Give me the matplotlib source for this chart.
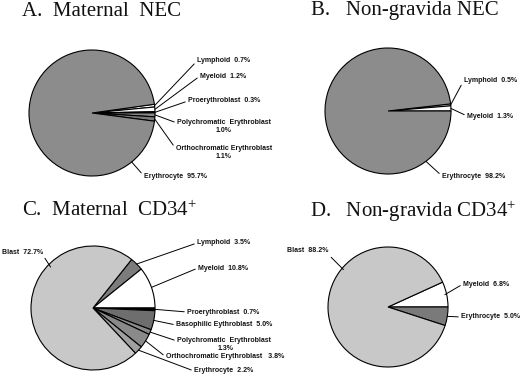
import matplotlib
matplotlib.use("Agg")
import matplotlib.pyplot as plt
import numpy as np

W, H = 520, 377
DPI = 100

# ---- data ----
titles = ["A.  Maternal  NEC", "B.   Non-gravida NEC",
          "C.  Maternal  CD34$^{+}$", "D.   Non-gravida CD34$^{+}$"]

a_labels = ["Lymphoid", "Myeloid", "Proerythroblast", "Polychromatic  Erythroblast",
            "Orthochromatic Erythroblast", "Erythrocyte"]
a_values = [0.7, 1.2, 0.3, 1.0, 1.1, 95.7]

b_labels = ["Lymphoid", "Myeloid", "Erythrocyte"]
b_values = [0.5, 1.3, 98.2]

c_labels = ["Lymphoid", "Myeloid", "Proerythroblast", "Basophilic Eythroblast",
            "Polychromatic  Erythroblast", "Orthochromatic Erythroblast", "Erythrocyte", "Blast"]
c_values = [3.5, 10.8, 0.7, 5.0, 1.3, 3.8, 2.2, 72.7]

d_labels = ["Myeloid", "Erythrocyte", "Blast"]
d_values = [6.8, 5.0, 88.2]

# ---- styles / layout ----
a_colors = ["#ffffff", "#ffffff", "#000000", "#8a8a8a", "#7a7a7a", "#8c8c8c"]
b_colors = ["#ffffff", "#ffffff", "#8c8c8c"]
c_colors = ["#7c7c7c", "#ffffff", "#000000", "#6e6e6e", "#8a8a8a", "#8a8a8a", "#a0a0a0", "#c8c8c8"]
d_colors = ["#ffffff", "#7a7a7a", "#c8c8c8"]

# pie center (px from top-left), radius px, start angle
pies = [
    dict(cx=92, cy=113, r=63, start=8.0),
    dict(cx=388, cy=111, r=63, start=6.5),
    dict(cx=93, cy=308, r=62, start=51.48),
    dict(cx=388, cy=307, r=60, start=24.5),
]
title_pos = [(22, 11), (311, 11), (22, 211), (310, 211)]

# label layout: (text x, text y, anchor angle or None=mid, anchor radius, ha, second-line (x,y) or None)
a_layout = [
    (197, 61, None, 1.0, "left", None),
    (200, 76, None, 1.0, "left", None),
    (188, 101, None, 1.0, "left", None),
    (177, 123, None, 1.0, "left", (224, 131)),
    (176, 149, None, 1.0, "left", (224, 157)),
    (144, 176, -51, 1.0, "left", None),
]
b_layout = [
    (464, 80, None, 1.0, "left", None),
    (467, 116, None, 1.0, "left", None),
    (442, 176, -53, 1.0, "left", None),
]
c_layout = [
    (197, 243, None, 1.0, "left", None),
    (198, 268, None, 1.0, "left", None),
    (187, 312, None, 1.0, "left", None),
    (176, 325, None, 1.0, "left", None),
    (177, 341, None, 1.0, "left", (226, 349)),
    (166, 357, None, 1.0, "left", None),
    (194, 371, None, 1.0, "left", None),
    (2, 252, 136, 0.95, "left", None),
]
d_layout = [
    (463, 284, None, 0.97, "left", None),
    (461, 317, None, 1.0, "left", None),
    (287, 251, 140, 0.97, "left", None),
]

LFONT = dict(family="Liberation Sans", fontweight="bold", fontsize=5.0, color="#111111")

plt.rcParams["mathtext.fontset"] = "custom"
plt.rcParams["mathtext.rm"] = "Liberation Serif"
plt.rcParams["mathtext.it"] = "Liberation Serif"
plt.rcParams["mathtext.bf"] = "Liberation Serif"

fig = plt.figure(figsize=(W / DPI, H / DPI), dpi=DPI)
fig.patch.set_facecolor("white")

def fig_y(y):
    return H - y

sets = [(a_labels, a_values, a_colors, a_layout),
        (b_labels, b_values, b_colors, b_layout),
        (c_labels, c_values, c_colors, c_layout),
        (d_labels, d_values, d_colors, d_layout)]

for k, (labels, values, colors, layout) in enumerate(sets):
    p = pies[k]
    ax = fig.add_axes([(p["cx"] - p["r"]) / W, (H - p["cy"] - p["r"]) / H,
                       2 * p["r"] / W, 2 * p["r"] / H])
    wedges, _ = ax.pie(values, colors=colors, startangle=p["start"], counterclock=False,
                       radius=1.0, wedgeprops=dict(edgecolor="black", linewidth=0.8))
    ax.set_xlim(-1, 1)
    ax.set_ylim(-1, 1)
    ax.set_aspect("equal")
    ax.axis("off")

    for w, lab, val, lay in zip(wedges, labels, values, layout):
        tx, ty, ang, rr, ha, second = lay
        if ang is None:
            ang = (w.theta1 + w.theta2) / 2.0
        xy = (rr * np.cos(np.radians(ang)), rr * np.sin(np.radians(ang)))
        pct = f"{val:.1f}%"
        if second is None:
            if lab.startswith("Orthochromatic") and k == 2:
                txt = f"{lab}   {pct}"
            else:
                txt = f"{lab}  {pct}"
        else:
            txt = lab
        relpos = (0.0, 0.5)
        if lab == "Blast":
            relpos = (1.0, 0.0)
        ax.annotate(txt, xy=xy, xycoords="data", xytext=(tx, fig_y(ty)),
                    textcoords="figure pixels", ha=ha, va="center",
                    annotation_clip=False,
                    arrowprops=dict(arrowstyle="-", lw=0.7, color="black",
                                    shrinkA=0, shrinkB=0, relpos=relpos),
                    **LFONT)
        if second is not None:
            fig.text(second[0] / W, fig_y(second[1]) / H, pct, ha="center", va="center", **LFONT)

for t, (x, y) in zip(titles, title_pos):
    fig.text(x / W, fig_y(y) / H, t, family="Liberation Serif", fontsize=15,
             ha="left", va="center", color="#111111")

fig.savefig("out.png", dpi=DPI, facecolor="white")
